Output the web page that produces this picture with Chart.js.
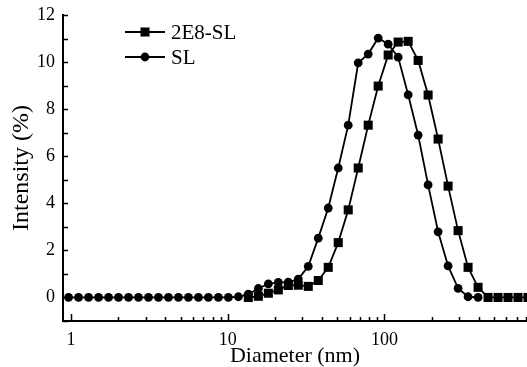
<!DOCTYPE html>
<html>
<head>
<meta charset="utf-8">
<script src="https://cdn.jsdelivr.net/npm/chart.js@4"></script>
<style>
  html, body { margin: 0; padding: 0; background: #fff; }
  #wrap { width: 527px; height: 367px; }
</style>
</head>
<body>
<div id="wrap"><canvas id="dlsChart" width="527" height="367"></canvas></div>
<script>
// Size bins (nm) shared by both samples
const diameters = [
    0.9649, 1.117, 1.294, 1.499, 1.736, 2.010, 2.328, 2.696, 3.122, 3.615,
    4.187, 4.849, 5.615, 6.503, 7.531, 8.721, 10.10, 11.70, 13.54, 15.69,
    18.17, 21.04, 24.36, 28.21, 32.67, 37.84, 43.82, 50.75, 58.77, 68.06,
    78.82, 91.28, 105.7, 122.4, 141.8, 164.2, 190.1, 220.2, 255.0, 295.3,
    342.0, 396.1, 458.7, 531.2, 615.1, 712.4, 825.0
];

// Intensity (%) per bin, null = not measured
const intensity2E8SL = [
    null, null, null, null, null, null, null, null, null, null,
    null, null, null, null, null, null, null, null, 0, 0.05,
    0.18, 0.32, 0.51, 0.52, 0.47, 0.72, 1.28, 2.33, 3.72, 5.5,
    7.32, 8.98, 10.3, 10.85, 10.88, 10.07, 8.6, 6.73, 4.73, 2.84,
    1.28, 0.43, 0, 0, 0, 0, 0
];
const intensitySL = [
    0, 0, 0, 0, 0, 0, 0, 0, 0, 0,
    0, 0, 0, 0, 0, 0, 0, 0.03, 0.14, 0.38,
    0.58, 0.64, 0.65, 0.78, 1.32, 2.52, 3.8, 5.5, 7.32, 9.97,
    10.34, 11.02, 10.76, 10.21, 8.61, 6.9, 4.78, 2.79, 1.34, 0.39,
    0.03, 0, null, null, null, null, null
];

const xMajorTicks = [1, 10, 100];
const yTickLabels = [0, 2, 4, 6, 8, 10, 12];

Chart.defaults.font.family = '"Liberation Serif", "Times New Roman", serif';
Chart.defaults.color = '#000';

function toPoints(values) {
    return diameters.map((d, i) => ({ x: d, y: values[i] }));
}

// ticks drawn on the inner side of both axes
const insideTicks = {
    id: 'insideTicks',
    afterDraw(chart) {
        const { ctx, chartArea, scales: { x, y } } = chart;
        ctx.save();
        ctx.strokeStyle = '#000';
        ctx.lineWidth = 1.5;
        ctx.beginPath();
        x.ticks.forEach(t => {
            const px = Math.round(x.getPixelForValue(t.value)) + 0.5;
            const len = xMajorTicks.includes(t.value) ? 7 : 4;
            ctx.moveTo(px, chartArea.bottom);
            ctx.lineTo(px, chartArea.bottom - len);
        });
        y.ticks.forEach(t => {
            const py = Math.round(y.getPixelForValue(t.value)) + 0.5;
            ctx.moveTo(chartArea.left, py);
            ctx.lineTo(chartArea.left + 5, py);
        });
        ctx.stroke();
        ctx.restore();
    }
};

// legend: short line with the series marker, then the name
const lineLegend = {
    id: 'lineLegend',
    afterDraw(chart) {
        const { ctx } = chart;
        const x0 = 125, x1 = 165, top = 32, rowGap = 25;
        ctx.save();
        chart.data.datasets.forEach((ds, i) => {
            const yy = top + i * rowGap;
            ctx.strokeStyle = ds.borderColor;
            ctx.lineWidth = ds.borderWidth;
            ctx.beginPath();
            ctx.moveTo(x0, yy);
            ctx.lineTo(x1, yy);
            ctx.stroke();
            ctx.fillStyle = ds.pointBackgroundColor;
            Chart.helpers.drawPoint(ctx, {
                pointStyle: ds.pointStyle,
                radius: ds.pointRadius,
                borderWidth: 0
            }, (x0 + x1) / 2, yy);
            ctx.fillStyle = '#000';
            ctx.font = '21px "Liberation Serif", serif';
            ctx.textBaseline = 'middle';
            ctx.fillText(ds.label, x1 + 6, yy + 1);
        });
        ctx.restore();
    }
};

const ctx = document.getElementById('dlsChart').getContext('2d');
const chart = new Chart(ctx, {
    type: 'line',
    data: {
        datasets: [
            {
                label: '2E8-SL',
                data: toPoints(intensity2E8SL),
                borderColor: '#000',
                borderWidth: 1.8,
                pointStyle: 'rect',
                pointRadius: 6.4,
                pointBackgroundColor: '#000',
                pointBorderWidth: 0,
                tension: 0,
                clip: false
            },
            {
                label: 'SL',
                data: toPoints(intensitySL),
                borderColor: '#000',
                borderWidth: 1.8,
                pointStyle: 'circle',
                pointRadius: 4.4,
                pointBackgroundColor: '#000',
                pointBorderWidth: 0,
                tension: 0,
                clip: false
            }
        ]
    },
    options: {
        responsive: false,
        animation: false,
        layout: { autoPadding: false, padding: { top: 15, right: 0, left: 0, bottom: 0 } },
        plugins: {
            legend: { display: false },
            tooltip: { enabled: false }
        },
        scales: {
            x: {
                type: 'logarithmic',
                min: 0.889,
                max: 813,
                grid: { display: false, drawTicks: true, tickLength: 8 },
                border: { display: true, color: '#000', width: 2 },
                afterBuildTicks: scale => {
                    scale.ticks = xMajorTicks
                        .flatMap(d => [1, 2, 3, 4, 5, 6, 7, 8, 9].map(k => ({ value: k * d })))
                        .filter(t => t.value >= scale.min && t.value <= scale.max);
                },
                afterFit: scale => { scale.height = 46; },
                ticks: {
                    autoSkip: false,
                    maxRotation: 0,
                    padding: 0,
                    font: { size: 18 },
                    callback: value => xMajorTicks.includes(value) ? String(value) : ''
                },
                title: {
                    display: true,
                    text: 'Diameter (nm)',
                    font: { size: 22, lineHeight: 1 },
                    padding: { top: 0, bottom: 0 }
                }
            },
            y: {
                min: -1,
                max: 12,
                grid: { display: false, drawTicks: true, tickLength: 8 },
                border: { display: true, color: '#000', width: 2 },
                afterFit: scale => { scale.width = 63; },
                ticks: {
                    stepSize: 1,
                    autoSkip: false,
                    padding: 0,
                    font: { size: 18 },
                    callback: value => yTickLabels.includes(value) ? String(value) : ''
                },
                title: {
                    display: true,
                    text: 'Intensity (%)',
                    font: { size: 24 },
                    padding: { top: 7, bottom: 0 }
                }
            }
        }
    },
    plugins: [insideTicks, lineLegend]
});
</script>
</body>
</html>
